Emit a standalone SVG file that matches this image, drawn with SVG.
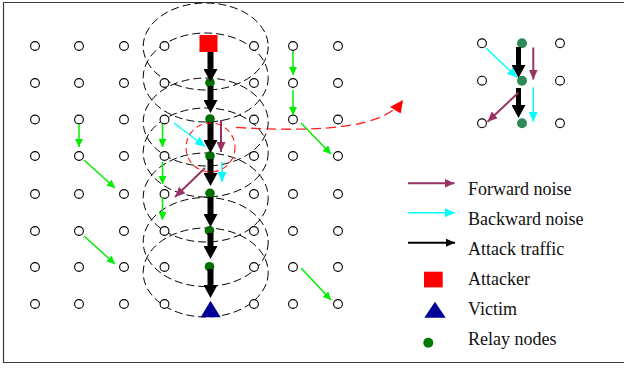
<svg xmlns="http://www.w3.org/2000/svg" width="624" height="369" viewBox="0 0 624 369">
<style>
.hc{fill:#fff;stroke:#000;stroke-width:1.1}
.rl{fill:#007000}
.rl2{fill:#2e8b57}
.el{fill:none;stroke:#000;stroke-width:1;stroke-dasharray:8,4}
.bk{stroke:#000;stroke-width:6;fill:none}
.bk2{stroke:#000;stroke-width:5;fill:none}
.gr{stroke:#00ee00;stroke-width:1.5;fill:none}
.cy{stroke:#00ffff;stroke-width:1.5;fill:none}
.pu{stroke:#993366;stroke-width:2;fill:none}
.lbl{font-family:"Liberation Serif","Times New Roman",serif;font-size:18px;fill:#111}
</style>
<defs>
<marker id="mBk" viewBox="0 0 13 14" refX="0" refY="7" markerWidth="13" markerHeight="14" markerUnits="userSpaceOnUse" orient="auto"><path d="M0,0 L13,7 L0,14 z" fill="#000"/></marker>
<marker id="mBkS" viewBox="0 0 9 8" refX="9" refY="4" markerWidth="9" markerHeight="8" markerUnits="userSpaceOnUse" orient="auto"><path d="M0,0 L9,4 L0,8 z" fill="#000"/></marker>
<marker id="mGr" viewBox="0 0 8 8" refX="8" refY="4" markerWidth="8" markerHeight="8" markerUnits="userSpaceOnUse" orient="auto"><path d="M0,0 L8,4 L0,8 z" fill="#00ee00"/></marker>
<marker id="mCy" viewBox="0 0 10 9" refX="10" refY="4.5" markerWidth="10" markerHeight="9" markerUnits="userSpaceOnUse" orient="auto"><path d="M0,0 L10,4.5 L0,9 z" fill="#00ffff"/></marker>
<marker id="mPu" viewBox="0 0 10 9" refX="10" refY="4.5" markerWidth="10" markerHeight="9" markerUnits="userSpaceOnUse" orient="auto"><path d="M0,0 L10,4.5 L0,9 z" fill="#993366"/></marker>
</defs>
<rect width="624" height="369" fill="#fff"/>
<path d="M626,2.5 H3.5 V362.5 H626" fill="none" stroke="#3a3a3a" stroke-width="1.2"/>

<g id="ranges">
<ellipse class="el" cx="205.7" cy="46.5" rx="62.5" ry="43.5"/>
<ellipse class="el" cx="205.7" cy="77.5" rx="62.5" ry="44.5"/>
<ellipse class="el" cx="205.7" cy="122" rx="62.5" ry="44"/>
<ellipse class="el" cx="205.7" cy="152.5" rx="62.5" ry="44.5"/>
<ellipse class="el" cx="205.7" cy="197.5" rx="62.5" ry="44.5"/>
<ellipse class="el" cx="205.7" cy="242" rx="62.5" ry="44.5"/>
<ellipse class="el" cx="205.7" cy="272.5" rx="62.5" ry="44.5"/>
</g>

<g id="grid-nodes">
<g id="row1"><circle class="hc" cx="35" cy="46" r="4.4"/><circle class="hc" cx="79" cy="46" r="4.4"/><circle class="hc" cx="124" cy="46" r="4.4"/><circle class="hc" cx="164.5" cy="46" r="4.4"/><circle class="hc" cx="254" cy="46" r="4.4"/><circle class="hc" cx="293" cy="46" r="4.4"/><circle class="hc" cx="338" cy="46" r="4.4"/></g>
<g id="row2"><circle class="hc" cx="35" cy="83" r="4.4"/><circle class="hc" cx="79" cy="83" r="4.4"/><circle class="hc" cx="124" cy="83" r="4.4"/><circle class="hc" cx="164.5" cy="83" r="4.4"/><circle class="hc" cx="254" cy="83" r="4.4"/><circle class="hc" cx="293" cy="83" r="4.4"/><circle class="hc" cx="338" cy="83" r="4.4"/></g>
<g id="row3"><circle class="hc" cx="35" cy="119.5" r="4.4"/><circle class="hc" cx="79" cy="119.5" r="4.4"/><circle class="hc" cx="124" cy="119.5" r="4.4"/><circle class="hc" cx="164.5" cy="119.5" r="4.4"/><circle class="hc" cx="254" cy="119.5" r="4.4"/><circle class="hc" cx="293" cy="119.5" r="4.4"/><circle class="hc" cx="338" cy="119.5" r="4.4"/></g>
<g id="row4"><circle class="hc" cx="35" cy="156" r="4.4"/><circle class="hc" cx="79" cy="156" r="4.4"/><circle class="hc" cx="124" cy="156" r="4.4"/><circle class="hc" cx="164.5" cy="156" r="4.4"/><circle class="hc" cx="254" cy="156" r="4.4"/><circle class="hc" cx="293" cy="156" r="4.4"/><circle class="hc" cx="338" cy="156" r="4.4"/></g>
<g id="row5"><circle class="hc" cx="35" cy="194" r="4.4"/><circle class="hc" cx="79" cy="194" r="4.4"/><circle class="hc" cx="124" cy="194" r="4.4"/><circle class="hc" cx="164.5" cy="194" r="4.4"/><circle class="hc" cx="254" cy="194" r="4.4"/><circle class="hc" cx="293" cy="194" r="4.4"/><circle class="hc" cx="338" cy="194" r="4.4"/></g>
<g id="row6"><circle class="hc" cx="35" cy="231" r="4.4"/><circle class="hc" cx="79" cy="231" r="4.4"/><circle class="hc" cx="124" cy="231" r="4.4"/><circle class="hc" cx="164.5" cy="231" r="4.4"/><circle class="hc" cx="254" cy="231" r="4.4"/><circle class="hc" cx="293" cy="231" r="4.4"/><circle class="hc" cx="338" cy="231" r="4.4"/></g>
<g id="row7"><circle class="hc" cx="35" cy="267" r="4.4"/><circle class="hc" cx="79" cy="267" r="4.4"/><circle class="hc" cx="124" cy="267" r="4.4"/><circle class="hc" cx="164.5" cy="267" r="4.4"/><circle class="hc" cx="254" cy="267" r="4.4"/><circle class="hc" cx="293" cy="267" r="4.4"/><circle class="hc" cx="338" cy="267" r="4.4"/></g>
<g id="row8"><circle class="hc" cx="35" cy="304" r="4.4"/><circle class="hc" cx="79" cy="304" r="4.4"/><circle class="hc" cx="124" cy="304" r="4.4"/><circle class="hc" cx="164.5" cy="304" r="4.4"/><circle class="hc" cx="254" cy="304" r="4.4"/><circle class="hc" cx="293" cy="304" r="4.4"/><circle class="hc" cx="338" cy="304" r="4.4"/></g>
</g>

<g id="attacker"><rect x="199.5" y="35" width="18" height="17" fill="#ff0000"/></g>
<g id="relays">
<circle class="rl" cx="210" cy="82.7" r="4.8"/>
<circle class="rl" cx="210" cy="119" r="4.8"/>
<circle class="rl" cx="210" cy="156" r="4.8"/>
<circle class="rl" cx="210" cy="193.3" r="4.8"/>
<circle class="rl" cx="209.5" cy="230.7" r="4.8"/>
<circle class="rl" cx="209.5" cy="266.7" r="4.8"/>
</g>
<g id="victim"><polygon points="210.5,300.7 200.7,317.3 220.7,317.3" fill="#000099"/></g>

<g id="connectors">
<line class="bk" x1="210.5" y1="52" x2="210.5" y2="69" marker-end="url(#mBk)"/>
<line class="bk" x1="210.5" y1="86" x2="210.5" y2="100" marker-end="url(#mBk)"/>
<line class="bk" x1="210.5" y1="122" x2="210.5" y2="140" marker-end="url(#mBk)"/>
<line class="bk" x1="210.5" y1="159" x2="210.5" y2="173" marker-end="url(#mBk)"/>
<line class="bk" x1="210.5" y1="197" x2="210.5" y2="214" marker-end="url(#mBk)"/>
<line class="bk" x1="210.5" y1="233" x2="210.5" y2="246" marker-end="url(#mBk)"/>
<line class="bk" x1="210.5" y1="269" x2="210.5" y2="285" marker-end="url(#mBk)"/>

<line class="gr" x1="293" y1="51" x2="293" y2="75" marker-end="url(#mGr)"/>
<line class="gr" x1="293" y1="90" x2="293" y2="115" marker-end="url(#mGr)"/>
<line class="gr" x1="301" y1="123" x2="331" y2="154" marker-end="url(#mGr)"/>
<line class="gr" x1="79" y1="124" x2="79" y2="147" marker-end="url(#mGr)"/>
<line class="gr" x1="84" y1="160" x2="115" y2="188" marker-end="url(#mGr)"/>
<line class="gr" x1="162.5" y1="124" x2="162.5" y2="147" marker-end="url(#mGr)"/>
<line class="gr" x1="162.5" y1="162" x2="162.5" y2="184" marker-end="url(#mGr)"/>
<line class="gr" x1="162.5" y1="197" x2="162.5" y2="220" marker-end="url(#mGr)"/>
<line class="gr" x1="84" y1="236" x2="115" y2="264" marker-end="url(#mGr)"/>
<line class="gr" x1="301" y1="268" x2="331" y2="300" marker-end="url(#mGr)"/>

<line class="cy" x1="174" y1="123" x2="205" y2="146.5" marker-end="url(#mCy)"/>
<line class="cy" x1="222" y1="162" x2="222" y2="182" marker-end="url(#mCy)"/>
<line class="pu" x1="221" y1="120" x2="221" y2="152" marker-end="url(#mPu)"/>
<line class="pu" x1="205" y1="168" x2="175" y2="197" marker-end="url(#mPu)"/>

<circle cx="210.5" cy="147.5" r="24.5" fill="none" stroke="#ff2020" stroke-width="1.1" stroke-dasharray="6,4"/>
<path d="M236,127.5 C300,131 365,131 393,110" fill="none" stroke="#ff2020" stroke-width="1.3" stroke-dasharray="10,5"/>
<polygon points="403,100 390,107 400.7,113.5" fill="#ff0000"/>
</g>

<g id="inset">
<g id="inset-nodes">
<circle class="hc" cx="482" cy="43.3" r="4.4"/><circle class="hc" cx="560" cy="43.3" r="4.4"/>
<circle class="hc" cx="482" cy="80.7" r="4.4"/><circle class="hc" cx="560" cy="80.7" r="4.4"/>
<circle class="hc" cx="482" cy="123.3" r="4.4"/><circle class="hc" cx="560" cy="123.3" r="4.4"/>
<circle class="rl2" cx="522" cy="43.3" r="5"/>
<circle class="rl2" cx="522" cy="80.7" r="5"/>
<circle class="rl2" cx="522" cy="123.3" r="5"/>
</g>
<g id="inset-connectors">
<line class="bk2" x1="518.5" y1="47" x2="518.5" y2="65" marker-end="url(#mBk)"/>
<line class="bk2" x1="518.5" y1="88" x2="518.5" y2="105" marker-end="url(#mBk)"/>
<line class="pu" x1="533.3" y1="47.5" x2="533.3" y2="79.5" marker-end="url(#mPu)"/>
<line class="cy" x1="486" y1="48" x2="517" y2="77.5" marker-end="url(#mCy)"/>
<line class="pu" x1="518.3" y1="92.7" x2="487.5" y2="121.7" marker-end="url(#mPu)"/>
<line class="cy" x1="533.3" y1="87.3" x2="533.3" y2="121.7" marker-end="url(#mCy)"/>
</g>
</g>

<g id="legend">
<g id="leg-forward"><line class="pu" x1="408" y1="183.3" x2="454.5" y2="183.3" marker-end="url(#mPu)"/><text class="lbl" x="468" y="195">Forward noise</text></g>
<g id="leg-backward"><line class="cy" x1="408" y1="212.7" x2="455" y2="212.7" marker-end="url(#mCy)"/><text class="lbl" x="468" y="224.5">Backward noise</text></g>
<g id="leg-attack"><line stroke="#000" stroke-width="2" x1="408" y1="242.7" x2="455" y2="242.7" marker-end="url(#mBkS)"/><text class="lbl" x="468" y="254.5">Attack traffic</text></g>
<g id="leg-attacker"><rect x="424" y="271.7" width="18.7" height="15.7" fill="#ff0000"/><text class="lbl" x="468" y="284.5">Attacker</text></g>
<g id="leg-victim"><polygon points="435,301.7 424.3,317.7 445.7,317.7" fill="#000099"/><text class="lbl" x="468" y="314.5">Victim</text></g>
<g id="leg-relay"><circle cx="428.3" cy="342.7" r="5" fill="#007a00"/><text class="lbl" x="468" y="344.5">Relay nodes</text></g>
</g>
</svg>
